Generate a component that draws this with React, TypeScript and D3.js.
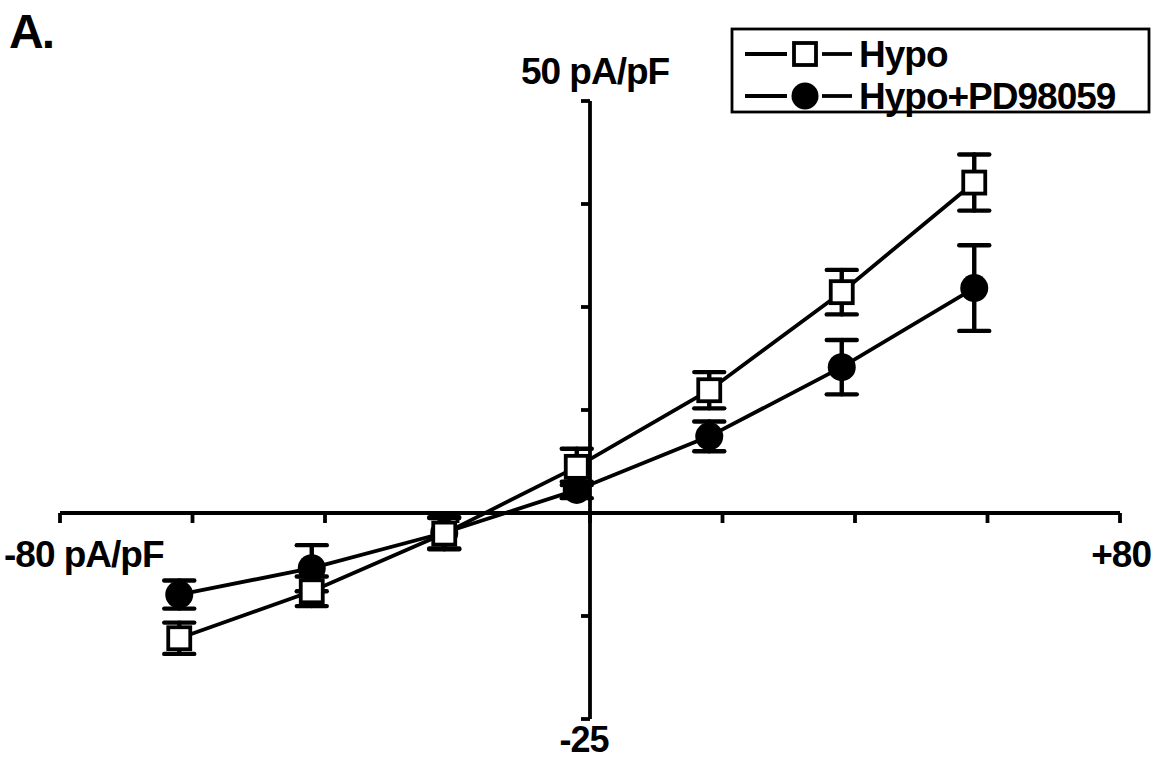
import React from "react";
import * as d3 from "d3";

// membrane potential (mV) of each step
const voltages = [-62, -42, -22, -2, 18, 38, 58];

// current density, pA/pF
const hypoMean = [-15.2, -9.5, -2.5, 5.6, 14.9, 26.8, 40.1];
const hypoErr = [1.9, 1.8, 1.9, 2.2, 2.2, 2.7, 3.4];
const pdMean = [-9.9, -6.7, -2.4, 2.8, 9.3, 17.7, 27.3];
const pdErr = [1.7, 2.8, 1.9, 1.0, 1.8, 3.3, 5.2];

const xTicks = [-80, -60, -40, -20, 0, 20, 40, 60, 80];
const yTicks = [-25, -12.5, 0, 12.5, 25, 37.5, 50];

const legendItems = ["Hypo", "Hypo+PD98059"];

const W = 1157;
const H = 761;
const FONT = "'Liberation Sans', Arial, sans-serif";

export default function App() {
  const x = d3.scaleLinear().domain([-80, 80]).range([60, 1120]);
  const y = d3.scaleLinear().domain([-25, 50]).range([719, 101]);

  const line = d3
    .line<number>()
    .x((_, i) => x(voltages[i]))
    .y((d) => y(d));

  const sw = 3.8;
  const cap = 15;

  const errorBars = (means: number[], errs: number[], key: string) =>
    means.map((m, i) => {
      const cx = x(voltages[i]);
      const top = y(m + errs[i]);
      const bot = y(m - errs[i]);
      return (
        <g key={key + i} stroke="#000" strokeWidth={sw + 0.6} strokeLinecap="round">
          <line x1={cx} x2={cx} y1={top} y2={bot} />
          <line x1={cx - cap} x2={cx + cap} y1={top} y2={top} />
          <line x1={cx - cap} x2={cx + cap} y1={bot} y2={bot} />
        </g>
      );
    });

  const x0 = x(0);
  const y0 = y(0);

  return (
    <svg
      width={W}
      height={H}
      style={{ position: "absolute", left: 0, top: 0, background: "#fff" }}
      fontFamily={FONT}
      fontWeight="bold"
    >
      <rect width={W} height={H} fill="#fff" />

      {/* panel label */}
      <text x={9} y={48} fontSize={48} letterSpacing={-2}>
        A.
      </text>

      {/* x axis */}
      <g stroke="#000" strokeWidth={sw} fill="none">
        <line x1={x(-80)} x2={x(80)} y1={y0} y2={y0} />
        {xTicks.map((t) => (
          <line key={"xt" + t} x1={x(t)} x2={x(t)} y1={y0} y2={y0 + 10} />
        ))}
      </g>

      {/* y axis */}
      <g stroke="#000" strokeWidth={sw} fill="none">
        <line x1={x0} x2={x0} y1={y(-25)} y2={y(50)} />
        {yTicks.map((t) => (
          <line key={"yt" + t} x1={x0 - 9} x2={x0} y1={y(t)} y2={y(t)} />
        ))}
      </g>

      <g fontSize={37} letterSpacing={-1}>
        <text x={4} y={567}>-80 pA/pF</text>
        <text x={1151} y={567} textAnchor="end">+80</text>
        <text x={x0 + 5} y={84} textAnchor="middle">50 pA/pF</text>
        <text x={x0 - 6} y={752} fontSize={36} textAnchor="middle">-25</text>
      </g>

      {/* lines */}
      <path d={line(hypoMean) ?? ""} fill="none" stroke="#000" strokeWidth={sw} />
      <path d={line(pdMean) ?? ""} fill="none" stroke="#000" strokeWidth={sw} />

      {errorBars(pdMean, pdErr, "pe")}
      {errorBars(hypoMean, hypoErr, "he")}

      {/* markers */}
      {pdMean.map((m, i) => (
        <circle key={"pc" + i} cx={x(voltages[i])} cy={y(m)} r={14} fill="#000" />
      ))}
      {hypoMean.map((m, i) => (
        <rect
          key={"hs" + i}
          x={x(voltages[i]) - 11}
          y={y(m) - 11}
          width={22}
          height={22}
          fill="#fff"
          stroke="#000"
          strokeWidth={sw}
        />
      ))}

      {/* legend */}
      <g>
        <rect x={732} y={29} width={417} height={83} fill="#fff" stroke="#000" strokeWidth={2.8} />
        {legendItems.map((name, i) => {
          const ly = 54 + i * 42;
          return (
            <g key={name}>
              <line x1={745} x2={787} y1={ly} y2={ly} stroke="#000" strokeWidth={sw} />
              <line x1={822} x2={852} y1={ly} y2={ly} stroke="#000" strokeWidth={sw} />
              {i === 0 ? (
                <rect x={794} y={ly - 11} width={22} height={22} fill="#fff" stroke="#000" strokeWidth={sw} />
              ) : (
                <circle cx={805} cy={ly} r={13.5} fill="#000" />
              )}
              <text x={859} y={ly + 13} fontSize={37} letterSpacing={-1}>
                {name}
              </text>
            </g>
          );
        })}
      </g>
    </svg>
  );
}
